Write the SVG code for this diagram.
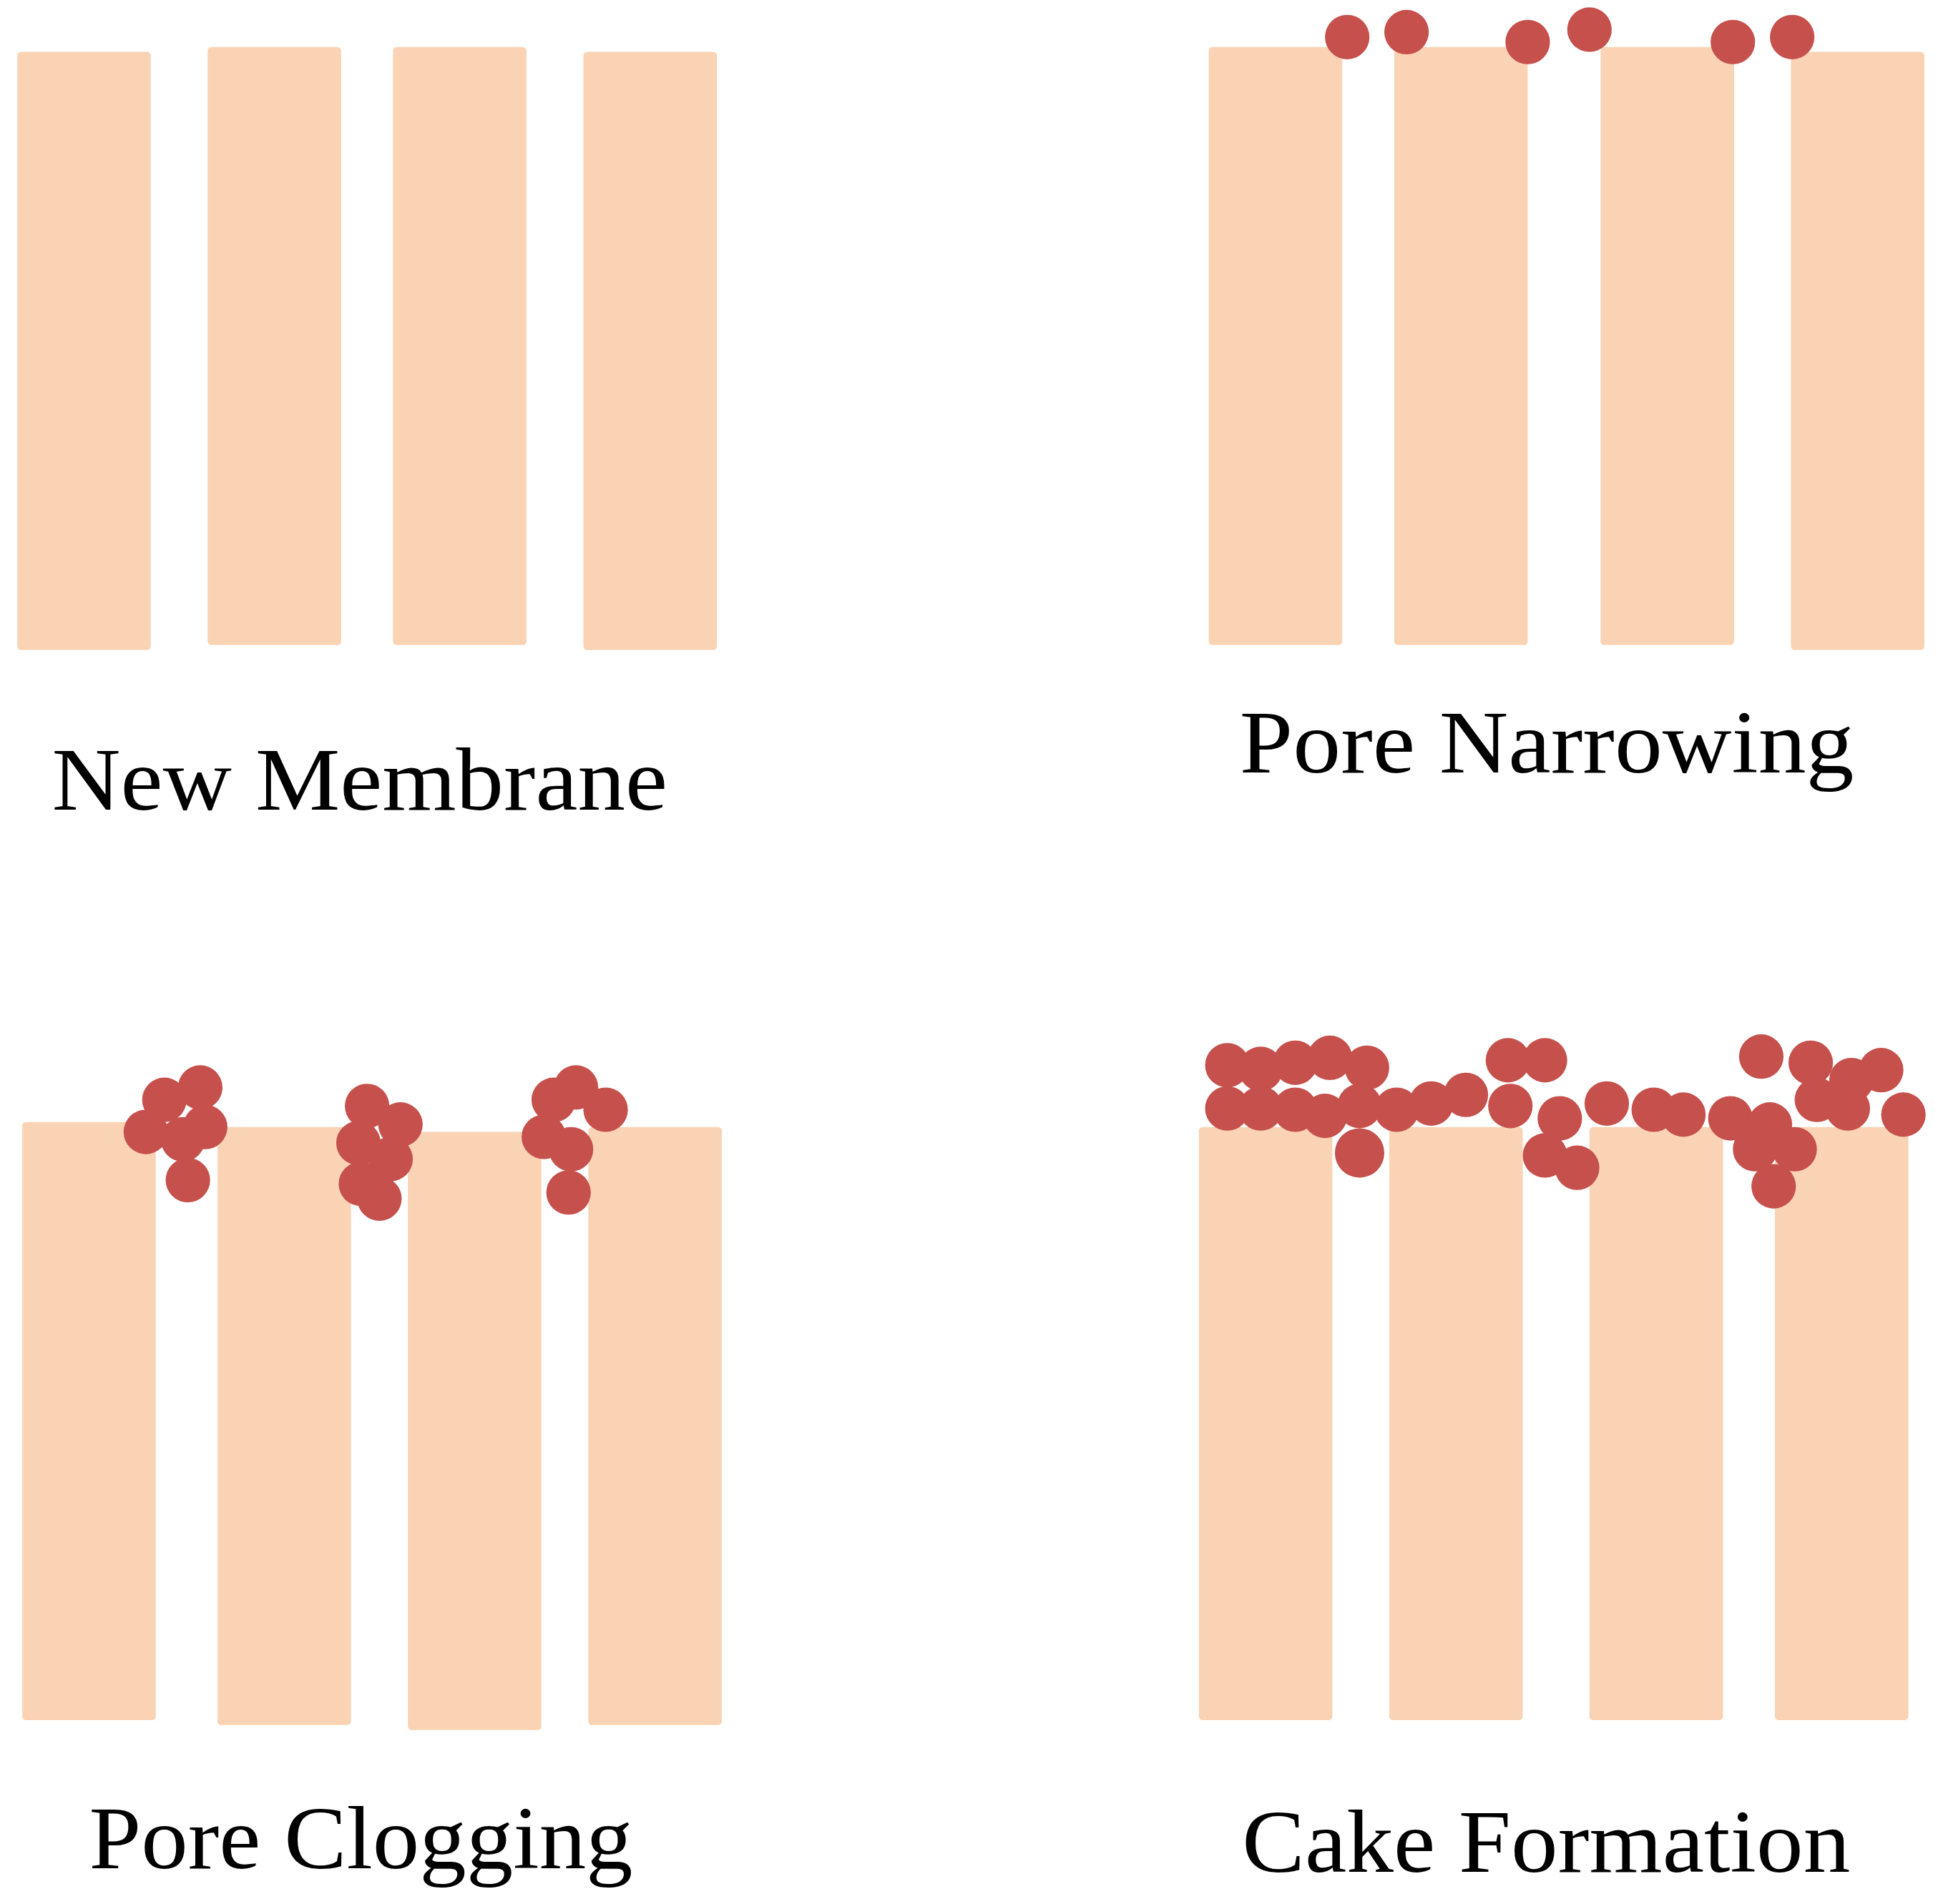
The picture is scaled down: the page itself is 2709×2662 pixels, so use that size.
<svg xmlns="http://www.w3.org/2000/svg" width="2709" height="2662" viewBox="0 0 2709 2662">
<style>
.m{fill:#fad3b4}
.d{fill:#c5504c}
.t{font-family:"Liberation Serif","DejaVu Serif",serif;font-size:72px;fill:#000}
</style>
<rect width="2709" height="2662" fill="#fff"/>
<g transform="scale(1.7277)">
<g id="new-membrane">
<rect class="m" x="14" y="42" width="108" height="484" rx="3"/>
<rect class="m" x="168" y="38" width="108" height="484" rx="3"/>
<rect class="m" x="318" y="38" width="108" height="484" rx="3"/>
<rect class="m" x="472" y="42" width="108" height="484" rx="3"/>
<text class="t" x="42" y="655" textLength="498" lengthAdjust="spacingAndGlyphs">New Membrane</text>
</g>
<g id="pore-narrowing">
<rect class="m" x="978" y="38" width="108" height="484" rx="3"/>
<rect class="m" x="1128" y="38" width="108" height="484" rx="3"/>
<rect class="m" x="1295" y="38" width="108" height="484" rx="3"/>
<rect class="m" x="1449" y="42" width="108" height="484" rx="3"/>
<g class="d"><circle cx="1090" cy="30" r="18"/><circle cx="1138" cy="26" r="18"/><circle cx="1236" cy="34" r="18"/><circle cx="1286" cy="24" r="18"/><circle cx="1402" cy="34" r="18"/><circle cx="1450" cy="30" r="18"/></g>
<text class="t" x="1003" y="625" textLength="497" lengthAdjust="spacingAndGlyphs">Pore Narrowing</text>
</g>
<g id="pore-clogging">
<rect class="m" x="18" y="908" width="108" height="484" rx="3"/>
<rect class="m" x="176" y="912" width="108" height="484" rx="3"/>
<rect class="m" x="330" y="916" width="108" height="484" rx="3"/>
<rect class="m" x="476" y="912" width="108" height="484" rx="3"/>
<g class="d">
<circle cx="133" cy="890" r="18"/><circle cx="162" cy="880" r="18"/><circle cx="166" cy="912" r="18"/><circle cx="118" cy="916" r="18"/><circle cx="148" cy="922" r="18"/><circle cx="152" cy="955" r="18"/>
<circle cx="297" cy="895" r="18"/><circle cx="324" cy="910" r="18"/><circle cx="290" cy="925" r="18"/><circle cx="316" cy="938" r="18"/><circle cx="292" cy="958" r="18"/><circle cx="307" cy="970" r="18"/>
<circle cx="448" cy="890" r="18"/><circle cx="466" cy="880" r="18"/><circle cx="490" cy="898" r="18"/><circle cx="440" cy="920" r="18"/><circle cx="462" cy="930" r="18"/><circle cx="460" cy="965" r="18"/>
</g>
<text class="t" x="72" y="1512" textLength="440" lengthAdjust="spacingAndGlyphs">Pore Clogging</text>
</g>
<g id="cake-formation">
<rect class="m" x="970" y="912" width="108" height="480" rx="3"/>
<rect class="m" x="1124" y="912" width="108" height="480" rx="3"/>
<rect class="m" x="1286" y="912" width="108" height="480" rx="3"/>
<rect class="m" x="1436" y="912" width="108" height="480" rx="3"/>
<g class="d">
<circle cx="993" cy="862" r="18"/><circle cx="1020" cy="865" r="18"/><circle cx="1048" cy="860" r="18"/><circle cx="1076" cy="856" r="18"/><circle cx="1106" cy="864" r="18"/>
<circle cx="993" cy="897" r="18"/><circle cx="1020" cy="897" r="18"/><circle cx="1048" cy="898" r="18"/><circle cx="1072" cy="903" r="18"/><circle cx="1100" cy="895" r="18"/>
<circle cx="1130" cy="898" r="18"/><circle cx="1158" cy="893" r="18"/><circle cx="1186" cy="886" r="18"/><circle cx="1100" cy="933" r="20"/>
<circle cx="1220" cy="858" r="18"/><circle cx="1250" cy="858" r="18"/><circle cx="1222" cy="895" r="18"/><circle cx="1262" cy="905" r="18"/><circle cx="1250" cy="935" r="18"/><circle cx="1276" cy="945" r="18"/>
<circle cx="1300" cy="893" r="18"/><circle cx="1338" cy="898" r="18"/><circle cx="1362" cy="902" r="18"/>
<circle cx="1425" cy="855" r="18"/><circle cx="1465" cy="860" r="18"/><circle cx="1498" cy="874" r="18"/><circle cx="1522" cy="866" r="18"/>
<circle cx="1400" cy="905" r="18"/><circle cx="1432" cy="910" r="18"/><circle cx="1452" cy="930" r="18"/><circle cx="1435" cy="960" r="18"/><circle cx="1495" cy="897" r="18"/><circle cx="1540" cy="902" r="18"/><circle cx="1470" cy="890" r="18"/><circle cx="1420" cy="930" r="18"/>
</g>
<text class="t" x="1005" y="1515" textLength="492" lengthAdjust="spacingAndGlyphs">Cake Formation</text>
</g>
</g>
</svg>
